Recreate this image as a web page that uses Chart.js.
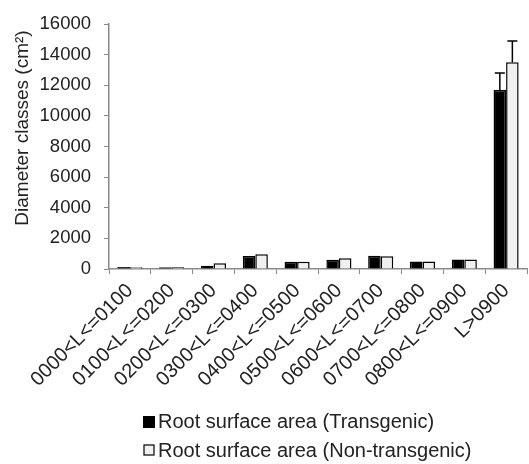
<!DOCTYPE html>
<html>
<head>
<meta charset="utf-8">
<script src="https://cdn.jsdelivr.net/npm/chart.js@4"></script>
<style>
html,body{margin:0;padding:0;background:#fff;}
#wrap{width:529px;height:464px;position:relative;}
</style>
</head>
<body>
<div id="wrap"><canvas id="c" width="529" height="464"></canvas></div>
<script>
const categories = ["0000<L<=0100","0100<L<=0200","0200<L<=0300","0300<L<=0400","0400<L<=0500","0500<L<=0600","0600<L<=0700","0700<L<=0800","0800<L<=0900","L>0900"];
const transgenic = [130, 120, 220, 850, 480, 610, 860, 490, 620, 11700];
const nonTransgenic = [120, 110, 370, 960, 480, 700, 840, 490, 620, 13500];
const errTransgenic = [0, 0, 0, 0, 0, 0, 0, 0, 0, 1100];
const errNonTransgenic = [0, 0, 0, 0, 0, 0, 0, 0, 0, 1400];
const yTicks = [0, 2000, 4000, 6000, 8000, 10000, 12000, 14000, 16000];
const seriesNames = ["Root surface area (Transgenic)", "Root surface area (Non-transgenic)"];
const yTitle = "Diameter classes (cm²)";

const FONT = "'Liberation Sans', Arial, sans-serif";

const errorBars = {
  id: 'errorBars',
  afterDatasetsDraw(chart) {
    const ctx = chart.ctx;
    const ys = chart.scales.y;
    const errs = [errTransgenic, errNonTransgenic];
    chart.data.datasets.forEach((ds, di) => {
      const meta = chart.getDatasetMeta(di);
      meta.data.forEach((el, i) => {
        const e = errs[di][i];
        if (!e) return;
        const top = ys.getPixelForValue(ds.data[i] + e);
        ctx.save();
        ctx.strokeStyle = '#000';
        ctx.lineWidth = 1.5;
        ctx.beginPath();
        ctx.moveTo(el.x, el.y);
        ctx.lineTo(el.x, top);
        ctx.moveTo(el.x - 5, top);
        ctx.lineTo(el.x + 5, top);
        ctx.stroke();
        ctx.restore();
      });
    });
  }
};

const extras = {
  id: 'extras',
  afterDraw(chart) {
    const ctx = chart.ctx;
    ctx.save();
    ctx.fillStyle = '#222';
    ctx.font = "19px " + FONT;
    ctx.textAlign = 'center';
    ctx.textBaseline = 'middle';
    ctx.translate(23, 128);
    ctx.rotate(-Math.PI / 2);
    ctx.fillText(yTitle, 0, 0);
    ctx.restore();
    ctx.save();
    ctx.font = "20px " + FONT;
    ctx.textAlign = 'left';
    ctx.textBaseline = 'alphabetic';
    ctx.fillStyle = '#000';
    ctx.fillRect(143, 416, 12, 12);
    ctx.fillStyle = '#222';
    ctx.fillText(seriesNames[0], 158, 428);
    ctx.fillStyle = '#f0f0f0';
    ctx.fillRect(144, 445, 10, 10);
    ctx.strokeStyle = '#000';
    ctx.lineWidth = 1.2;
    ctx.strokeRect(144, 445, 10, 10);
    ctx.fillStyle = '#222';
    ctx.fillText(seriesNames[1], 158, 457);
    ctx.restore();
  }
};

new Chart(document.getElementById('c'), {
  type: 'bar',
  data: {
    labels: categories,
    datasets: [
      { label: seriesNames[0], data: transgenic, backgroundColor: '#000', borderColor: '#000', borderWidth: 1.5 },
      { label: seriesNames[1], data: nonTransgenic, backgroundColor: '#f0f0f0', borderColor: '#000', borderWidth: 1.5 }
    ]
  },
  options: {
    responsive: false,
    animation: false,
    devicePixelRatio: 1,
    layout: { padding: { top: 23, right: 2, left: 0, bottom: 0 } },
    datasets: { bar: { categoryPercentage: 0.6, barPercentage: 1.0 } },
    plugins: { legend: { display: false }, tooltip: { enabled: false } },
    scales: {
      x: {
        offset: true,
        grid: { display: true, offset: true, drawOnChartArea: false, drawTicks: true, tickLength: 5, color: '#8a8a8a', lineWidth: 1 },
        border: { color: '#8a8a8a', width: 1.5 },
        ticks: { autoSkip: false, maxRotation: 45, minRotation: 45, color: '#222', font: { family: FONT, size: 20 }, padding: 5 },
        afterFit(s) { s.height = 195; }
      },
      y: {
        min: 0, max: 16000,
        afterBuildTicks(s) { s.ticks = yTicks.map(v => ({ value: v })); },
        grid: { display: true, drawOnChartArea: false, drawTicks: true, tickLength: 5, color: '#8a8a8a' },
        border: { color: '#8a8a8a', width: 1.5 },
        ticks: { color: '#222', font: { family: FONT, size: 18.5 }, padding: 13, callback: (v) => String(v) },
        afterFit(s) { s.width = 109; }
      }
    }
  },
  plugins: [errorBars, extras]
});
</script>
</body>
</html>
